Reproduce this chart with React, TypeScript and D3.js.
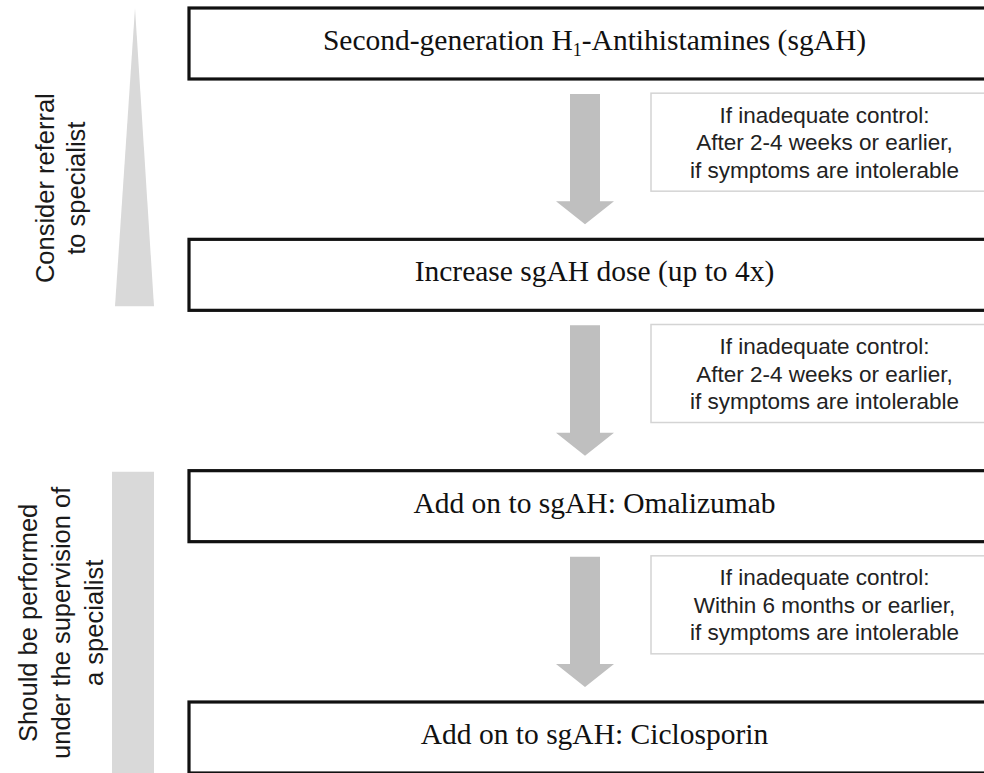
import React from 'react';
import * as d3 from 'd3';

// treatment steps, top to bottom
const steps = [
    'Second-generation H|1|-Antihistamines (sgAH)',
    'Increase sgAH dose (up to 4x)',
    'Add on to sgAH: Omalizumab',
    'Add on to sgAH: Ciclosporin',
];

// note shown between step i and step i+1
const notes = [
    ['If inadequate control:', 'After 2-4 weeks or earlier,', 'if symptoms are intolerable'],
    ['If inadequate control:', 'After 2-4 weeks or earlier,', 'if symptoms are intolerable'],
    ['If inadequate control:', 'Within 6 months or earlier,', 'if symptoms are intolerable'],
];

// side labels: which steps they cover
const sideLabels = [
    { lines: ['Consider referral', 'to specialist'], from: 0, to: 1, shape: 'wedge' },
    { lines: ['Should be performed', 'under the supervision of', 'a specialist'], from: 2, to: 3, shape: 'bar' },
];

const W = 984;
const H = 773;
const boxH = 71;

export default function App() {
    const y = d3.scaleLinear().domain([0, steps.length - 1]).range([8, 702]);
    const boxX0 = 189;
    const boxX1 = 1000;
    const arrowX = 585;
    const noteX0 = 651;
    const noteX1 = 1000;

    const arrowPath = (top: number, tip: number) => {
        const p = d3.path();
        const sw = 15;
        const hw = 29;
        const hl = 23;
        p.moveTo(arrowX - sw, top);
        p.lineTo(arrowX + sw, top);
        p.lineTo(arrowX + sw, tip - hl);
        p.lineTo(arrowX + hw, tip - hl);
        p.lineTo(arrowX, tip);
        p.lineTo(arrowX - hw, tip - hl);
        p.lineTo(arrowX - sw, tip - hl);
        p.closePath();
        return p.toString();
    };

    const wedgeBottom = (s: (typeof sideLabels)[number]) => y(s.to) + boxH - 4;

    const sideShape = (s: (typeof sideLabels)[number]) => {
        const top = y(s.from);
        if (s.shape === 'wedge') {
            const bottom = wedgeBottom(s);
            return d3.line()([
                [135, top],
                [154, bottom],
                [115, bottom],
            ]) + 'Z';
        }
        const top2 = top + 1;
        return d3.line()([
            [112, top2],
            [154, top2],
            [154, H],
            [112, H],
        ]) + 'Z';
    };

    return (
        <svg width={W} height={H} style={{ position: 'absolute', left: 0, top: 0, background: '#fff' }}>
            {sideLabels.map((s, i) => {
                const top = y(s.from);
                const bottom = s.shape === 'wedge' ? wedgeBottom(s) : H;
                const cy = s.shape === 'wedge' ? (top + bottom) / 2 + 31 : (top + bottom) / 2 + 1;
                const bx = s.shape === 'wedge' ? 54 : 37;
                const gap = s.shape === 'wedge' ? 31 : 33;
                return (
                    <g key={i}>
                        <path d={sideShape(s)} fill="#d9d9d9" />
                        <g transform={`translate(${bx},${cy}) rotate(-90)`}>
                            {s.lines.map((l, j) => (
                                <text
                                    key={j}
                                    x={0}
                                    y={j * gap}
                                    textAnchor="middle"
                                    fontFamily="Liberation Sans, Arial, sans-serif"
                                    fontSize={25.5}
                                    fill="#1a1a1a"
                                >
                                    {l}
                                </text>
                            ))}
                        </g>
                    </g>
                );
            })}

            {notes.map((n, i) => {
                const gapTop = y(i) + boxH;
                const gapBottom = y(i + 1);
                const mid = (gapTop + gapBottom) / 2 - 17;
                return (
                    <g key={i}>
                        <path d={arrowPath(gapTop + 15, gapBottom - 15)} fill="#bfbfbf" />
                        <rect
                            x={noteX0}
                            y={mid - 49}
                            width={noteX1 - noteX0}
                            height={98}
                            fill="#fff"
                            stroke="#d4d4d4"
                            strokeWidth={1.5}
                        />
                        {n.map((l, j) => (
                            <text
                                key={j}
                                x={(noteX0 + noteX1) / 2 - 1}
                                y={mid + 8 + (j - 1) * 27.5}
                                textAnchor="middle"
                                fontFamily="Liberation Sans, Arial, sans-serif"
                                fontSize={22.5}
                                fill="#222"
                            >
                                {l}
                            </text>
                        ))}
                    </g>
                );
            })}

            {steps.map((s, i) => {
                const parts = s.split('|');
                return (
                    <g key={i}>
                        <rect
                            x={boxX0}
                            y={y(i)}
                            width={boxX1 - boxX0}
                            height={boxH}
                            fill="#fff"
                            stroke="#111"
                            strokeWidth={3.2}
                        />
                        <text
                            x={(boxX0 + boxX1) / 2}
                            y={y(i) + 42}
                            textAnchor="middle"
                            fontFamily="Liberation Serif, Times New Roman, serif"
                            fontSize={29.5}
                            fill="#111"
                        >
                            {parts.length === 3 ? (
                                <>
                                    <tspan>{parts[0]}</tspan>
                                    <tspan fontSize={18} dy={6}>
                                        {parts[1]}
                                    </tspan>
                                    <tspan dy={-6}>{parts[2]}</tspan>
                                </>
                            ) : (
                                s
                            )}
                        </text>
                    </g>
                );
            })}
        </svg>
    );
}
